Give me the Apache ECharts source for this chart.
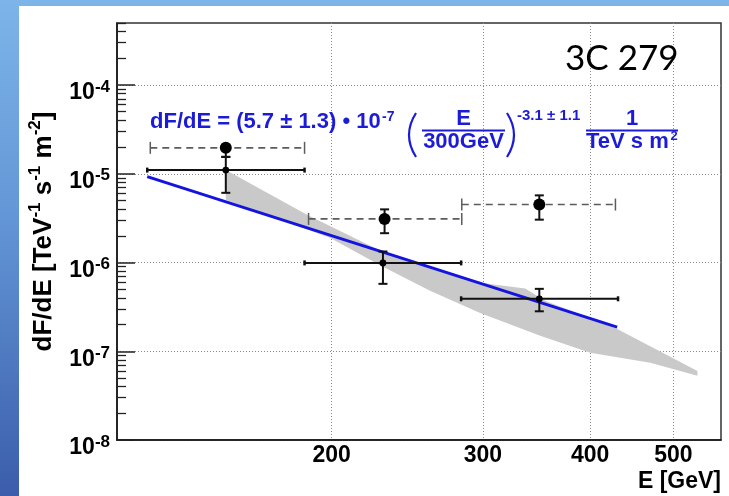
<!DOCTYPE html>
<html>
<head>
<meta charset="utf-8">
<script src="https://cdn.jsdelivr.net/npm/echarts@6.0.0/dist/echarts.min.js"></script>
<style>
  html, body { margin: 0; padding: 0; width: 729px; height: 496px; overflow: hidden; }
  body { position: relative; background: linear-gradient(180deg, #7db5e9 0%, #6295d5 45%, #3b5dab 100%); }
  #panel { position: absolute; left: 19px; top: 6px; right: 0; bottom: 0; background: #fff; }
  #chart { position: absolute; left: 0; top: 0; width: 729px; height: 496px; }
</style>
</head>
<body>
<div id="panel"></div>
<div id="chart"></div>
<script>
// Differential flux of 3C 279, energy in GeV, flux in TeV^-1 s^-1 m^-2
const energy      = [150.6, 229.5, 349.0];
const binLow      = [122, 186, 283];
const binHigh     = [186, 283, 431];
const flux        = [1.10e-5, 9.9e-7, 3.9e-7];
const fluxErrHigh = [1.55e-5, 1.33e-6, 5.05e-7];
const fluxErrLow  = [6.1e-6, 5.75e-7, 2.82e-7];

// second flux set (dashed bins, large markers)
const energyAlt      = [150.6, 230.5, 349.0];
const binLowAlt      = [123, 188, 283.5];
const binHighAlt     = [186, 283.5, 428];
const fluxAlt        = [1.96e-5, 3.1e-6, 4.5e-6];
const fluxAltErrHigh = [2.1e-5, 3.97e-6, 5.71e-6];
const fluxAltErrLow  = [1.55e-5, 2.14e-6, 3.04e-6];

// power-law fit: dF/dE = N * (E / E0)^gamma
const fitNorm = 5.7e-7;
const fitIndex = -3.1;
const fitPivot = 300;
const fitRange = [122, 430];

// outline of the shaded uncertainty region
const bandUpperE = [150.6, 187.7, 228.9, 253.5, 297.8, 336.0, 354.5, 429.0, 533.2];
const bandUpperF = [1.10e-5, 3.40e-6, 1.33e-6, 9.5e-7, 5.9e-7, 5.1e-7, 3.7e-7, 1.8e-7, 6.0e-8];
const bandLowerE = [533.2, 469.9, 400.0, 349.8, 297.8, 260.4, 227.7, 199.1, 150.6];
const bandLowerF = [5.3e-8, 7.4e-8, 9.6e-8, 1.5e-7, 2.7e-7, 4.8e-7, 9.3e-7, 1.9e-6, 5.1e-6];

// axis ticks
const xTickValues = [200, 300, 400, 500];
const xTickLabels = ['200', '300', '400', '500'];
const yTickValues = [1e-8, 1e-7, 1e-6, 1e-5, 1e-4];
const yTickExponents = ['-8', '-7', '-6', '-5', '-4'];

const xMin = 112.5, xMax = 568;
const yMin = 1e-8, yMax = 5e-4;

// minor ticks 2..9 x 10^n inside the y range
const yMinorTicks = [];
yTickValues.forEach(function (d) {
  for (let k = 2; k <= 9; k++) {
    const v = k * d;
    if (v <= yMax * 1.0001) yMinorTicks.push(v);
  }
});

const FONT = '"Liberation Sans", Arial, Helvetica, sans-serif';
const BLUE = '#1c1cd8';

const fitData = fitRange.map(function (e) {
  return [e, fitNorm * Math.pow(e / fitPivot, fitIndex)];
});

const bandPoints = bandUpperE.map(function (e, i) { return [e, bandUpperF[i]]; })
  .concat(bandLowerE.map(function (e, i) { return [e, bandLowerF[i]]; }));

const mainData = energy.map(function (e, i) {
  return [e, flux[i], binLow[i], binHigh[i], fluxErrLow[i], fluxErrHigh[i]];
});
const altData = energyAlt.map(function (e, i) {
  return [e, fluxAlt[i], binLowAlt[i], binHighAlt[i], fluxAltErrLow[i], fluxAltErrHigh[i]];
});

function errorBars(o) {
  return function (params, api) {
    const x = api.value(0), y = api.value(1);
    const c = api.coord([x, y]);
    const l = api.coord([api.value(2), y]);
    const r = api.coord([api.value(3), y]);
    const lo = api.coord([x, api.value(4)]);
    const hi = api.coord([x, api.value(5)]);
    const hStyle = { stroke: o.hColor, lineWidth: o.hWidth, lineDash: o.hDash || null };
    const capH = { stroke: o.hColor, lineWidth: o.capWidth };
    const vStyle = { stroke: '#111', lineWidth: 2 };
    return {
      type: 'group',
      children: [
        { type: 'line', shape: { x1: l[0], y1: l[1], x2: r[0], y2: r[1] }, style: hStyle },
        { type: 'line', shape: { x1: l[0], y1: l[1] - o.hCap, x2: l[0], y2: l[1] + o.hCap }, style: capH },
        { type: 'line', shape: { x1: r[0], y1: r[1] - o.hCap, x2: r[0], y2: r[1] + o.hCap }, style: capH },
        { type: 'line', shape: { x1: c[0], y1: lo[1], x2: c[0], y2: hi[1] }, style: vStyle },
        { type: 'line', shape: { x1: c[0] - 4.5, y1: lo[1], x2: c[0] + 4.5, y2: lo[1] }, style: vStyle },
        { type: 'line', shape: { x1: c[0] - 4.5, y1: hi[1], x2: c[0] + 4.5, y2: hi[1] }, style: vStyle },
        { type: 'circle', shape: { cx: c[0], cy: c[1], r: o.r }, style: { fill: '#000' } }
      ]
    };
  };
}

function txt(text, x, y, size, opts) {
  opts = opts || {};
  return {
    type: 'text', x: x, y: y, silent: true, z: 100,
    style: {
      text: text,
      font: (opts.weight || 'bold') + ' ' + size + 'px ' + (opts.family || FONT),
      fill: opts.color || BLUE,
      align: opts.align || 'left',
      verticalAlign: 'middle'
    }
  };
}
function hline(x1, x2, y) {
  return { type: 'line', z: 100, silent: true, shape: { x1: x1, y1: y, x2: x2, y2: y }, style: { stroke: BLUE, lineWidth: 2 } };
}
function paren(x, xc, y1, y2) {
  return { type: 'bezierCurve', z: 100, silent: true,
    shape: { x1: x, y1: y1, x2: x, y2: y2, cpx1: xc, cpy1: (y1 + y2) / 2 },
    style: { stroke: BLUE, lineWidth: 2.2, fill: null } };
}

const chart = echarts.init(document.getElementById('chart'), null, { renderer: 'canvas' });

chart.setOption({
  backgroundColor: 'transparent',
  animation: false,
  grid: { left: 117, right: 8, top: 23, bottom: 56, show: true, borderColor: '#333', borderWidth: 1.5, backgroundColor: 'transparent' },
  xAxis: {
    type: 'log', logBase: 10, min: xMin, max: xMax,
    axisLine: { show: true, onZero: false, lineStyle: { color: '#111', width: 1.5 } },
    axisTick: { show: false, customValues: xTickValues },
    axisLabel: {
      customValues: xTickValues, margin: 4,
      fontFamily: FONT, fontWeight: 'bold', fontSize: 23, color: '#000',
      formatter: function (v) { return xTickLabels[xTickValues.indexOf(Math.round(v))] || ''; }
    },
    splitLine: { show: true, lineStyle: { color: '#8a8a8a', width: 1, type: [1, 2] } },
    name: 'E [GeV]', nameLocation: 'end', nameGap: 0,
    nameTextStyle: { fontFamily: FONT, fontWeight: 'bold', fontSize: 23, color: '#000', align: 'right', verticalAlign: 'top', padding: [30, 0, 0, 0] }
  },
  yAxis: [
    {
      type: 'log', logBase: 10, min: yMin, max: yMax,
      axisLine: { show: true, onZero: false, lineStyle: { color: '#111', width: 1.5 } },
      axisTick: { show: true, inside: true, length: 18, customValues: yTickValues, lineStyle: { color: '#222', width: 1.5 } },
      axisLabel: {
        customValues: yTickValues, margin: 7,
        padding: [13, 0, 0, 0],
        formatter: function (v) {
          const idx = Math.round(Math.log10(v)) + 8;
          return '{b|10}{s|' + yTickExponents[idx] + '}';
        },
        rich: {
          b: { fontFamily: FONT, fontWeight: 'bold', fontSize: 23, lineHeight: 26, color: '#000', verticalAlign: 'bottom' },
          s: { fontFamily: FONT, fontWeight: 'bold', fontSize: 17, lineHeight: 17, color: '#000', verticalAlign: 'top' }
        }
      },
      splitLine: { show: true, lineStyle: { color: '#8a8a8a', width: 1, type: [1, 2] } },
      name: '{t|dF/dE [TeV}{s|-1}{t| s}{s|-1}{t| m}{s|-2}{t|]}',
      nameLocation: 'middle', nameGap: 60, nameRotate: 90,
      nameTextStyle: {
        rich: {
          t: { fontFamily: FONT, fontWeight: 'bold', fontSize: 26, lineHeight: 30, color: '#000', verticalAlign: 'bottom' },
          s: { fontFamily: FONT, fontWeight: 'bold', fontSize: 17, lineHeight: 17, color: '#000', verticalAlign: 'top' }
        }
      }
    },
    {
      type: 'log', logBase: 10, min: yMin, max: yMax, position: 'left',
      axisLine: { show: false },
      axisTick: { show: true, inside: true, length: 9, customValues: yMinorTicks, lineStyle: { color: '#222', width: 1.3 } },
      axisLabel: { show: false },
      splitLine: { show: false }
    }
  ],
  series: [
    {
      name: 'band', type: 'custom', z: 1, clip: false,
      data: bandPoints,
      renderItem: function (params, api) {
        if (params.dataIndex !== 0) return null;
        const pts = bandPoints.map(function (p) { return api.coord(p); });
        return { type: 'polygon', shape: { points: pts }, style: { fill: '#c9c9c9' } };
      }
    },
    {
      name: 'fit', type: 'line', z: 3, data: fitData,
      showSymbol: false, symbol: 'none',
      lineStyle: { color: '#1414e0', width: 3 }
    },
    {
      name: 'alt', type: 'custom', z: 4, data: altData,
      renderItem: errorBars({ hColor: '#5c5c5c', hWidth: 1.6, hDash: [7, 5], hCap: 6, capWidth: 1.5, r: 6 })
    },
    {
      name: 'main', type: 'custom', z: 5, data: mainData,
      renderItem: errorBars({ hColor: '#111', hWidth: 2, hCap: 2.5, capWidth: 2.5, r: 3.4 })
    }
  ],
  graphic: [
    txt('3C 279', 565, 58.5, 35, { weight: 'normal', family: 'Lato, "Noto Sans", sans-serif', color: '#000' }),
    txt('dF/dE = (5.7 \u00b1 1.3) \u2022 10', 150, 122.4, 22),
    txt('-7', 382, 116.8, 14),
    paren(416, 402, 113, 157),
    txt('E', 463.5, 119.4, 22, { align: 'center' }),
    hline(422, 505, 130.5),
    txt('300GeV', 463.5, 142.4, 22, { align: 'center' }),
    paren(507, 521, 113, 157),
    txt('-3.1 \u00b1 1.1', 517, 115.8, 15),
    txt('1', 632, 119.4, 22, { align: 'center' }),
    hline(586, 678, 130.5),
    txt('TeV s m', 586, 142.4, 22),
    txt('2', 670.5, 136, 13)
  ]
});
</script>
</body>
</html>
